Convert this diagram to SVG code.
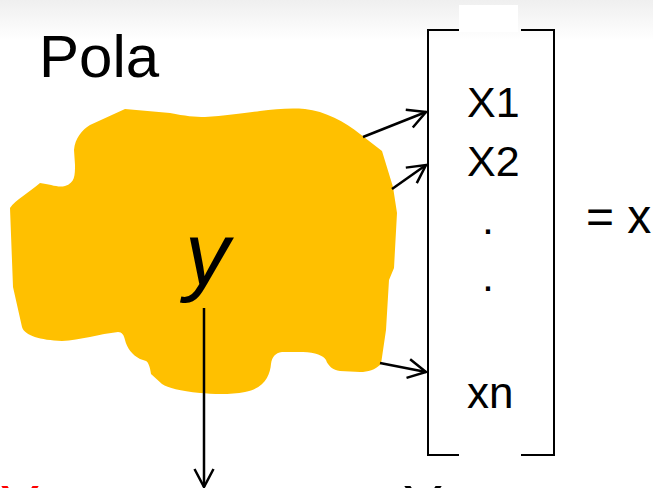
<svg xmlns="http://www.w3.org/2000/svg" width="653" height="488" viewBox="0 0 653 488">
  <defs>
    <linearGradient id="bg" x1="0" y1="0" x2="0" y2="1">
      <stop offset="0" stop-color="#efefef"/>
      <stop offset="1" stop-color="#ffffff"/>
    </linearGradient>
    <marker id="arrow" markerUnits="userSpaceOnUse" markerWidth="22" markerHeight="22" viewBox="0 0 22 22" refX="20" refY="11" orient="auto">
      <path d="M2,1.5 L20,11 L2,20.5" fill="none" stroke="#000" stroke-width="2.5"/>
    </marker>
  </defs>
  <style>
    .txt { font-family: "Liberation Sans", Arial, sans-serif; fill: #000; }
    .conn { stroke: #000; stroke-width: 2.5; fill: none; marker-end: url(#arrow); }
    .brk { stroke: #000; stroke-width: 2; fill: none; }
  </style>

  <!-- page background with faint header shading -->
  <rect x="0" y="0" width="653" height="488" fill="#ffffff"/>
  <rect x="0" y="0" width="653" height="40" fill="url(#bg)"/>

  <g id="title">
    <text class="txt" x="39" y="77" font-size="60">Pola</text>
  </g>

  <g id="field">
    <path fill="#FFC000" d="M125,109 L170,113 C185,116 195,117 205,117 C225,116 245,113 260,111 C275,109 290,108 305,109 C325,111 345,122 360,134 L382,151 L393,187 L397,213 L394,268 L389,280 L386,330 L381,364 C375,370 368,372 360,372 L340,371 C333,370 328,366 326,360 C324,356 315,352 303,352 L282,352 C275,353 272,357 271,364 C270,375 265,388 245,392 C230,395 212,394 200,393 C180,391 168,388 162,384 L151,374 C150,366 148,362 146,361 L140,359 C132,355 127,348 125,340 C124,335 122,332 118,332 C100,334 80,340 62,341 C40,340 25,336 22,327 L13,287 L10,208 C15,200 30,192 40,183 C50,184 58,188 65,186 C75,183 75,175 75,165 L74,150 C75,138 82,130 90,125 Z"/>
    <text class="txt" x="185" y="284" font-size="89" font-style="italic">y</text>
  </g>

  <g id="vector">
    <polyline class="brk" points="459,30 428,30 428,455 459,455"/>
    <polyline class="brk" points="521,30 554,30 554,455 521,455"/>
    <rect x="459" y="5" width="59" height="27" fill="#ffffff"/>
    <text class="txt" x="467" y="117" font-size="43">X1</text>
    <text class="txt" x="467" y="176" font-size="43">X2</text>
    <text class="txt" x="482" y="234" font-size="43">.</text>
    <text class="txt" x="482" y="291" font-size="43">.</text>
    <text class="txt" x="467" y="408" font-size="44">xn</text>
  </g>

  <g id="equals">
    <text class="txt" x="586" y="233" font-size="48">= x</text>
  </g>

  <g id="outputs">
    <text class="txt" x="0" y="527" font-size="60" style="fill:#ff0000">Y</text>
    <text class="txt" x="403" y="527" font-size="60">Y</text>
  </g>

  <g id="connectors">
    <line class="conn" x1="363" y1="137" x2="426" y2="112"/>
    <line class="conn" x1="392" y1="189" x2="426" y2="165"/>
    <line class="conn" x1="380" y1="363" x2="426" y2="372"/>
    <line class="conn" x1="204" y1="308" x2="204" y2="487"/>
  </g>
</svg>
